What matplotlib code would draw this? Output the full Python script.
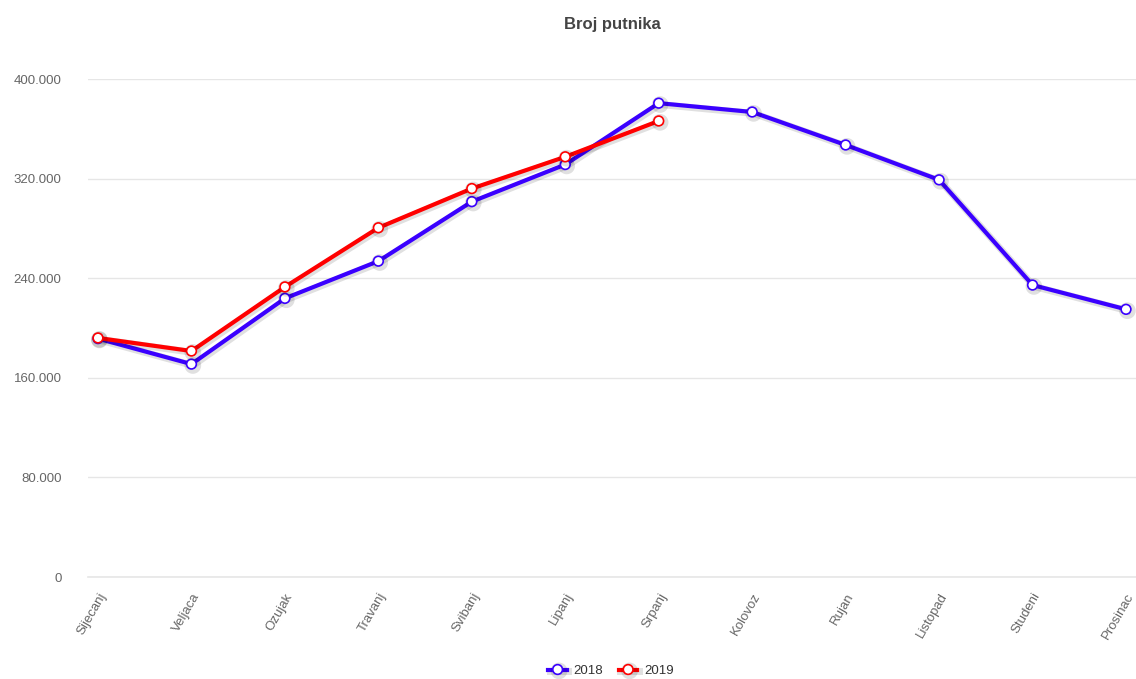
import matplotlib.pyplot as plt
from matplotlib import ticker
import matplotlib.patheffects as pe

months = ["Sijecanj", "Veljaca", "Ozujak", "Travanj", "Svibanj", "Lipanj",
          "Srpanj", "Kolovoz", "Rujan", "Listopad", "Studeni", "Prosinac"]
passengers_2018 = [191500, 171000, 223800, 253700, 301500, 331300,
                   380600, 373500, 347000, 319000, 234500, 215000]
passengers_2019 = [192000, 181500, 233000, 280500, 312000, 337500, 366300]

plt.rcParams['font.family'] = ['Liberation Sans', 'DejaVu Sans']

fig = plt.figure(figsize=(11.36, 6.79), dpi=100)
ax = fig.add_axes([88/1136, 1 - 577/679, 1048/1136, (577 - 79)/679])

shadow = [pe.SimpleLineShadow(offset=(1, -1), shadow_color='#000000', alpha=0.12, linewidth=5),
          pe.Normal()]

x18 = range(len(passengers_2018))
x19 = range(len(passengers_2019))
ax.plot(x18, passengers_2018, color='#3a00ff', linewidth=3, marker='o', markersize=7,
        markerfacecolor='white', markeredgecolor='#3a00ff', markeredgewidth=1.2,
        label='2018', clip_on=False, zorder=3, path_effects=shadow)
ax.plot(x19, passengers_2019, color='#ff0000', linewidth=3, marker='o', markersize=7,
        markerfacecolor='white', markeredgecolor='#ff0000', markeredgewidth=1.2,
        label='2019', clip_on=False, zorder=4, path_effects=shadow)

ax.set_xlim(-0.107, 11.107)
ax.set_ylim(0, 400000)
ax.yaxis.set_major_locator(ticker.MultipleLocator(80000))
ax.yaxis.set_major_formatter(ticker.FuncFormatter(
    lambda v, p: "0" if v == 0 else f"{int(v):,}".replace(",", ".")))
ax.set_xticks(list(x18))
ax.set_xticklabels(months, rotation=60, ha='right', va='top', rotation_mode='anchor')

ax.grid(axis='y', color='#e6e6e6', linewidth=1)
ax.axhline(0, color='#e6e6e6', linewidth=1.2, zorder=1, clip_on=False)
ax.set_axisbelow(True)
for s in ax.spines.values():
    s.set_visible(False)
ax.tick_params(axis='both', length=0, labelsize=9.5, labelcolor='#666666')
ax.tick_params(axis='y', pad=19)
ax.tick_params(axis='x', pad=10)

fig.text(612/1136, 1 - 25/679, "Broj putnika", ha='center', va='center',
         fontsize=12, fontweight='bold', color='#444444')

fig.legend(loc='center', bbox_to_anchor=(611/1136, 1 - 671/679), ncol=2, frameon=False,
           fontsize=9.5, labelcolor='#333333', handlelength=1.4, columnspacing=1.2,
           handletextpad=0.5)

plt.savefig("out.png", dpi=100)
